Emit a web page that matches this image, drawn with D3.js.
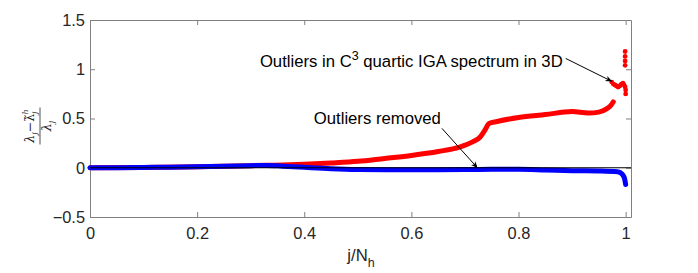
<!DOCTYPE html>
<html>
<head>
<meta charset="utf-8">
<script src="https://cdn.jsdelivr.net/npm/d3@7"></script>
<style>
  body { margin: 0; background: #fff; }
  text { font-family: "Liberation Sans", Arial, sans-serif; }
</style>
</head>
<body>
<div id="chart-container"></div>
<script>
// relative eigenvalue error, original C3 quartic spectrum (red)
const redX = [0, 0.1, 0.2, 0.3, 0.33, 0.36, 0.4, 0.45, 0.5, 0.55, 0.6, 0.65, 0.69, 0.715, 0.728, 0.737, 0.745, 0.76, 0.8, 0.85, 0.9, 0.93, 0.95, 0.965, 0.972, 0.977];
const redY = [0, 0.003, 0.01, 0.021, 0.025, 0.028, 0.035, 0.048, 0.065, 0.095, 0.125, 0.165, 0.21, 0.265, 0.31, 0.38, 0.45, 0.47, 0.51, 0.54, 0.57, 0.555, 0.565, 0.6, 0.63, 0.67];

// outlier modes near the end of the spectrum
const outX = [0.974, 0.977, 0.98, 0.983, 0.986, 0.989, 0.992, 0.995, 0.997, 0.999, 1.0, 1.0, 0.999, 0.999, 0.999, 0.999];
const outY = [0.87, 0.85, 0.84, 0.83, 0.82, 0.83, 0.85, 0.86, 0.84, 0.82, 0.79, 0.75, 1.04, 1.085, 1.13, 1.18];

// outliers removed (blue)
const blueX = [0, 0.05, 0.1, 0.15, 0.2, 0.25, 0.3, 0.33, 0.36, 0.4, 0.45, 0.5, 0.55, 0.6, 0.65, 0.7, 0.75, 0.8, 0.85, 0.9, 0.95, 0.985, 0.99, 0.995, 0.998, 1.0];
const blueY = [0, 0.001, 0.003, 0.006, 0.01, 0.015, 0.021, 0.024, 0.016, 0.004, -0.01, -0.018, -0.02, -0.02, -0.02, -0.018, -0.016, -0.015, -0.022, -0.03, -0.033, -0.04, -0.05, -0.075, -0.11, -0.17];

const xTicks = [0, 0.2, 0.4, 0.6, 0.8, 1];
const yTicks = [-0.5, 0, 0.5, 1, 1.5];

const MARGIN = { left: 90, right: 67, top: 20, bottom: 56 };
const WIDTH = 698 - MARGIN.left - MARGIN.right;
const HEIGHT = 273 - MARGIN.top - MARGIN.bottom;

const svg = d3.select("#chart-container").append("svg")
  .attr("width", 698)
  .attr("height", 273);

svg.append("defs").append("marker")
  .attr("id", "arrow")
  .attr("viewBox", "0 -5 10 10")
  .attr("refX", 10)
  .attr("refY", 0)
  .attr("markerWidth", 10)
  .attr("markerHeight", 7)
  .attr("markerUnits", "userSpaceOnUse")
  .attr("orient", "auto")
  .append("path")
  .attr("d", "M0,-4L10,0L0,4L3,0Z")
  .attr("fill", "#000");

const g = svg.append("g")
  .attr("transform", `translate(${MARGIN.left},${MARGIN.top})`);

const x = d3.scaleLinear().domain([0, 1.01]).range([0, WIDTH]);
const y = d3.scaleLinear().domain([-0.5, 1.5]).range([HEIGHT, 0]);

const axisColor = "#808080";
const labelColor = "#262626";

// axes with inward ticks on all four sides
const xAxisGroup = g.append("g")
  .attr("transform", `translate(0,${HEIGHT})`)
  .call(d3.axisBottom(x).tickValues(xTicks).tickFormat(d3.format("")).tickSizeInner(-5).tickSizeOuter(0).tickPadding(10));
const xTopGroup = g.append("g")
  .call(d3.axisTop(x).tickValues(xTicks).tickFormat("").tickSizeInner(-5).tickSizeOuter(0));
const yAxisGroup = g.append("g")
  .call(d3.axisLeft(y).tickValues(yTicks).tickFormat(d3.format("")).tickSizeInner(-5).tickSizeOuter(0).tickPadding(5));
const yRightGroup = g.append("g")
  .attr("transform", `translate(${WIDTH},0)`)
  .call(d3.axisRight(y).tickValues(yTicks).tickFormat("").tickSizeInner(-5).tickSizeOuter(0));

[xAxisGroup, xTopGroup, yAxisGroup, yRightGroup].forEach(a => {
  a.selectAll("path").attr("stroke", axisColor);
  a.selectAll("line").attr("stroke", axisColor);
  a.selectAll("text")
    .attr("fill", labelColor)
    .style("font-size", "16.4px")
    .style("font-family", "'Liberation Sans', Arial, sans-serif");
});

const line = d3.line()
  .x(d => x(d[0]))
  .y(d => y(d[1]))
  .curve(d3.curveMonotoneX);

// red series
g.append("path")
  .datum(redX.map((v, i) => [v, redY[i]]))
  .attr("fill", "none")
  .attr("stroke", "#ff0000")
  .attr("stroke-width", 5)
  .attr("stroke-linecap", "round")
  .attr("stroke-linejoin", "round")
  .attr("d", line);

g.selectAll("circle.out")
  .data(outX.map((v, i) => [v, outY[i]]))
  .enter().append("circle")
  .attr("class", "out")
  .attr("cx", d => x(d[0]))
  .attr("cy", d => y(d[1]))
  .attr("r", 2.4)
  .attr("fill", "#ff0000");

// blue series
g.append("path")
  .datum(blueX.map((v, i) => [v, blueY[i]]))
  .attr("fill", "none")
  .attr("stroke", "#0000ff")
  .attr("stroke-width", 5)
  .attr("stroke-linecap", "round")
  .attr("stroke-linejoin", "round")
  .attr("d", line);

// zero line
g.append("line")
  .attr("x1", 0)
  .attr("x2", WIDTH)
  .attr("y1", y(0))
  .attr("y2", y(0))
  .attr("stroke", "#000")
  .attr("stroke-width", 1);

// annotations
const t1 = g.append("text")
  .attr("x", x(0.8825))
  .attr("y", y(1.018))
  .attr("text-anchor", "end")
  .attr("fill", "#000")
  .style("font-size", "16.7px");
t1.append("tspan").text("Outliers in C");
t1.append("tspan").attr("dy", -7).style("font-size", "12.5px").text("3");
t1.append("tspan").attr("dy", 7).text(" quartic IGA spectrum in 3D");

g.append("line")
  .attr("x1", x(0.888)).attr("y1", y(1.11))
  .attr("x2", x(0.975)).attr("y2", y(0.875))
  .attr("stroke", "#000")
  .attr("stroke-width", 1)
  .attr("marker-end", "url(#arrow)");

g.append("text")
  .attr("x", x(0.655))
  .attr("y", y(0.444))
  .attr("text-anchor", "end")
  .attr("fill", "#000")
  .style("font-size", "16.7px")
  .text("Outliers removed");

g.append("line")
  .attr("x1", x(0.657)).attr("y1", y(0.40))
  .attr("x2", x(0.724)).attr("y2", y(-0.005))
  .attr("stroke", "#000")
  .attr("stroke-width", 1)
  .attr("marker-end", "url(#arrow)");

// x label
const xl = svg.append("text")
  .attr("x", 361)
  .attr("y", 261)
  .attr("text-anchor", "middle")
  .attr("fill", labelColor)
  .style("font-size", "16.7px");
xl.append("tspan").text("j/N");
xl.append("tspan").attr("dy", 6).style("font-size", "12.5px").text("h");

// y label: (λj − λ̃jh) / λj
const yl = svg.append("g")
  .attr("transform", "translate(40,126) rotate(-90)")
  .attr("fill", labelColor)
  .style("font-style", "italic");
yl.append("line")
  .attr("x1", -18.5).attr("x2", 18.5)
  .attr("y1", 0).attr("y2", 0)
  .attr("stroke", labelColor)
  .attr("stroke-width", 0.8);
const num = yl.append("text")
  .attr("x", 0)
  .attr("y", -6)
  .attr("text-anchor", "middle")
  .style("font-size", "12.5px")
  .style("font-family", "'DejaVu Serif', 'Liberation Serif', serif");
num.append("tspan").text("λ");
num.append("tspan").attr("dy", 3).style("font-size", "8px").text("j");
num.append("tspan").attr("dy", -3).style("font-style", "normal").text("−λ\u0303");
num.append("tspan").attr("dy", 3).style("font-size", "8px").text("j");
num.append("tspan").attr("dx", -3).attr("dy", -9).style("font-size", "8px").text("h");
const den = yl.append("text")
  .attr("x", 0)
  .attr("y", 11)
  .attr("text-anchor", "middle")
  .style("font-size", "12.5px")
  .style("font-family", "'DejaVu Serif', 'Liberation Serif', serif");
den.append("tspan").text("λ");
den.append("tspan").attr("dy", 3).style("font-size", "8px").text("j");
</script>
</body>
</html>
